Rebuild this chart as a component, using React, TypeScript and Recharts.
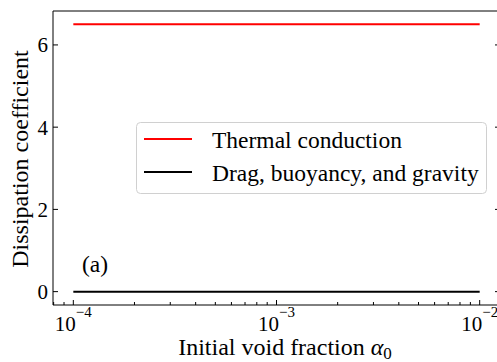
import { LineChart, Line, XAxis, YAxis, Legend } from "recharts";

// initial void fraction samples and dissipation coefficients
const alpha0 = [1e-4, 2e-4, 5e-4, 1e-3, 2e-3, 5e-3, 1e-2];
const thermal = [6.5, 6.5, 6.5, 6.5, 6.5, 6.5, 6.5];
const dragBuoyGrav = [0, 0, 0, 0, 0, 0, 0];

const seriesNames = ["Thermal conduction", "Drag, buoyancy, and gravity"];

const majorX = [1e-4, 1e-3, 1e-2];
const majorXExp = ["−4", "−3", "−2"];
const minorX = [
  8e-5, 9e-5,
  2e-4, 3e-4, 4e-4, 5e-4, 6e-4, 7e-4, 8e-4, 9e-4,
  2e-3, 3e-3, 4e-3, 5e-3, 6e-3, 7e-3, 8e-3, 9e-3,
];
const yTicks = [0, 2, 4, 6];

const data = alpha0.map((a, i) => ({ a, thermal: thermal[i], drag: dragBuoyGrav[i] }));

const FONT = "'Liberation Serif', 'Times New Roman', serif";
const serif = { fontFamily: FONT };
const xDomain = [Math.pow(10, -4.1), Math.pow(10, -1.9)];
const yDomain = [-0.325, 6.825];

const majorIndex = (v: number) => majorX.findIndex((m) => Math.abs(m - v) / m < 1e-6);

function BottomTick({ x, y, payload }: any) {
  const idx = majorIndex(payload.value);
  const major = idx >= 0;
  return (
    <g>
      <line x1={x} x2={x} y1={y} y2={y - (major ? 5 : 3)} stroke="#000" strokeWidth={1} />
      {major && (
        <text x={x} y={y + 26} textAnchor="middle" style={serif} fontSize={21} fill="#000">
          <tspan>10</tspan>
          <tspan dy={-14} fontSize={15}>{majorXExp[idx]}</tspan>
        </text>
      )}
    </g>
  );
}

function TopTick({ x, y, payload }: any) {
  const major = majorIndex(payload.value) >= 0;
  return <line x1={x} x2={x} y1={y} y2={y + (major ? 5 : 3)} stroke="#000" strokeWidth={1} />;
}

function LeftTick({ x, y, payload }: any) {
  return (
    <g>
      <line x1={x} x2={x + 5} y1={y} y2={y} stroke="#000" strokeWidth={1} />
      <text x={x - 5} y={y + 7.5} textAnchor="end" style={serif} fontSize={21} fill="#000">
        {payload.value}
      </text>
    </g>
  );
}

function RightTick({ x, y }: any) {
  return <line x1={x} x2={x - 5} y1={y} y2={y} stroke="#000" strokeWidth={1} />;
}

function XLabel() {
  return (
    <text x={285} y={355} textAnchor="middle" style={serif} fontSize={24} fill="#000">
      <tspan>Initial void fraction </tspan>
      <tspan fontStyle="italic">α</tspan>
      <tspan fontSize={17} dy={4}>0</tspan>
    </text>
  );
}

function YLabel() {
  return (
    <text
      x={0}
      y={0}
      transform="translate(28,159) rotate(-90)"
      textAnchor="middle"
      style={serif}
      fontSize={24}
      fill="#000"
    >
      Dissipation coefficient
    </text>
  );
}

function LegendBox({ payload }: any) {
  const items = seriesNames
    .map((n) => (payload || []).find((p: any) => p.value === n))
    .filter(Boolean);
  return (
    <svg width={352} height={73} style={{ display: "block" }}>
      <rect x={0.5} y={0.5} width={350} height={71} rx={4} fill="#fff" fillOpacity={0.8} stroke="#d0d0d0" />
      {items.map((p: any, i: number) => (
        <g key={p.value}>
          <line x1={8} x2={56} y1={17 + 33 * i} y2={17 + 33 * i} stroke={p.color} strokeWidth={2} />
          <text x={76} y={25.5 + 33 * i} style={serif} fontSize={23.5} fill="#000">
            {p.value}
          </text>
        </g>
      ))}
    </svg>
  );
}

export default function App() {
  return (
    <div style={{ position: "absolute", left: 0, top: 0, width: 497, height: 362, overflow: "hidden", background: "#fff" }}>
      <LineChart width={504} height={362} data={data} margin={{ top: 10, right: 3, bottom: 0, left: 0 }}>
        <XAxis
          xAxisId="b"
          dataKey="a"
          type="number"
          scale="log"
          domain={xDomain}
          allowDataOverflow
          ticks={[...majorX, ...minorX]}
          interval={0}
          tickSize={0}
          tickMargin={0}
          tickLine={false}
          tick={<BottomTick />}
          axisLine={{ stroke: "#000", strokeWidth: 1 }}
          height={57}
          label={<XLabel />}
        />
        <XAxis
          xAxisId="t"
          orientation="top"
          type="number"
          scale="log"
          domain={xDomain}
          allowDataOverflow
          ticks={[...majorX, ...minorX]}
          interval={0}
          tickSize={0}
          tickMargin={0}
          tickLine={false}
          tick={<TopTick />}
          axisLine={{ stroke: "#000", strokeWidth: 1 }}
          height={1}
        />
        <YAxis
          yAxisId="l"
          type="number"
          domain={yDomain}
          allowDataOverflow
          ticks={yTicks}
          interval={0}
          tickSize={0}
          tickMargin={0}
          tickLine={false}
          tick={<LeftTick />}
          axisLine={{ stroke: "#000", strokeWidth: 1 }}
          width={53}
          label={<YLabel />}
        />
        <YAxis
          yAxisId="r"
          orientation="right"
          type="number"
          domain={yDomain}
          allowDataOverflow
          ticks={yTicks}
          interval={0}
          tickSize={0}
          tickMargin={0}
          tickLine={false}
          tick={<RightTick />}
          axisLine={{ stroke: "#000", strokeWidth: 1 }}
          width={1}
        />
        <Line
          xAxisId="b"
          yAxisId="l"
          dataKey="thermal"
          name={seriesNames[0]}
          stroke="#ff0000"
          strokeWidth={2}
          dot={false}
          isAnimationActive={false}
        />
        <Line
          xAxisId="b"
          yAxisId="l"
          dataKey="drag"
          name={seriesNames[1]}
          stroke="#000000"
          strokeWidth={2}
          dot={false}
          isAnimationActive={false}
        />
        <Legend
          layout="vertical"
          align="center"
          verticalAlign="middle"
          content={<LegendBox />}
          wrapperStyle={{ position: "absolute", left: 136, top: 122, width: 352, height: 73 }}
        />
      </LineChart>
      <svg width={497} height={362} style={{ position: "absolute", left: 0, top: 0, pointerEvents: "none" }}>
        <text x={82} y={272} style={serif} fontSize={23.5} fill="#000">
          (a)
        </text>
      </svg>
    </div>
  );
}
